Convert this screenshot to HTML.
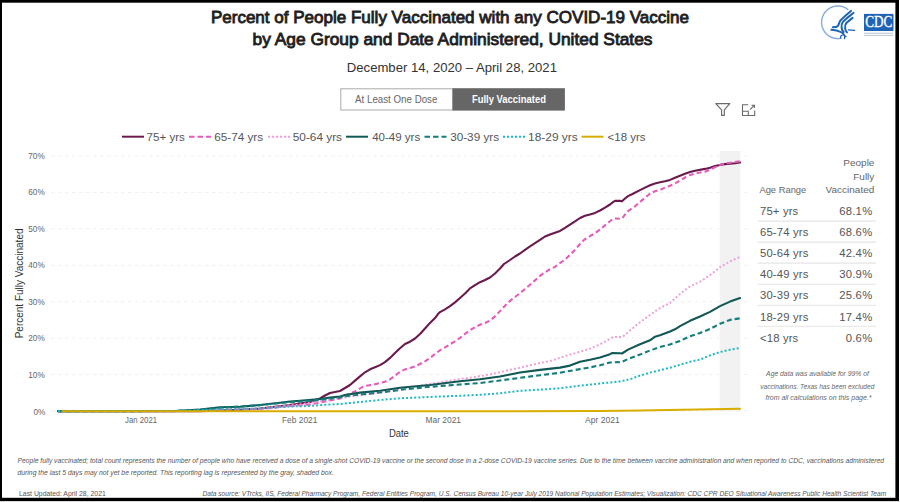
<!DOCTYPE html>
<html><head><meta charset="utf-8">
<style>
html,body{margin:0;padding:0;background:#fff;}
body{width:900px;height:502px;position:relative;overflow:hidden;font-family:"Liberation Sans",sans-serif;}
svg{position:absolute;left:0;top:0;font-family:"Liberation Sans",sans-serif;}
</style></head><body>
<svg width="900" height="502" viewBox="0 0 900 502">
<rect x="0" y="0" width="900" height="502" fill="#fff"/>
<rect x="0" y="0" width="899" height="2.7" fill="#000"/>
<rect x="0" y="0" width="2" height="501" fill="#000"/>
<rect x="895.4" y="0" width="3.6" height="501" fill="#000"/>
<rect x="0" y="497.8" width="899" height="3.2" fill="#000"/>
<rect x="0" y="501" width="900" height="1" fill="#d9d9d9"/>

<rect x="340.8" y="88.8" width="112" height="21.2" fill="#fff" stroke="#aaa" stroke-width="1"/>
<rect x="452.5" y="88.2" width="112.4" height="22.4" fill="#666"/>

<path d="M715.8,103.6 L729.8,103.6 L724.3,109.8 L724.3,115.4 L721.6,115.4 L721.6,109.8 Z" fill="none" stroke="#6a6a6a" stroke-width="1.15" stroke-linejoin="round"/>
<path d="M748.3,104.7 L742.5,104.7 L742.5,115.5 L754.7,115.5 L754.7,110.5" fill="none" stroke="#6a6a6a" stroke-width="1.1"/>
<path d="M742.5,111.3 L748.3,111.3 L748.3,115.5" fill="none" stroke="#6a6a6a" stroke-width="1.1"/>
<path d="M750,109.7 L754.4,105.2 M751.5,105.2 L754.4,105.2 L754.4,108" fill="none" stroke="#6a6a6a" stroke-width="1.1"/>

<line x1="122" y1="136.7" x2="144" y2="136.7" stroke="#6b1a4e" stroke-width="2"/>
<line x1="189" y1="136.7" x2="211" y2="136.7" stroke="#e55bbb" stroke-width="2" stroke-dasharray="5.5 3"/>
<line x1="268" y1="136.7" x2="290" y2="136.7" stroke="#efa1da" stroke-width="2" stroke-dasharray="2.2 1.8"/>
<line x1="346" y1="136.7" x2="368" y2="136.7" stroke="#115856" stroke-width="2"/>
<line x1="424.5" y1="136.7" x2="446.5" y2="136.7" stroke="#137d7c" stroke-width="2" stroke-dasharray="5.5 3"/>
<line x1="503" y1="136.7" x2="525" y2="136.7" stroke="#1fb9bf" stroke-width="2" stroke-dasharray="2.2 1.8"/>
<line x1="581.5" y1="136.7" x2="603.5" y2="136.7" stroke="#d9ad00" stroke-width="2"/>

<rect x="719.7" y="151" width="20.6" height="260.5" fill="#f2f2f2"/>
<line x1="51" y1="411.0" x2="748" y2="411.0" stroke="#f0f0f0" stroke-width="1" stroke-dasharray="3.6 3.4"/>
<line x1="51" y1="374.6" x2="748" y2="374.6" stroke="#f0f0f0" stroke-width="1" stroke-dasharray="3.6 3.4"/>
<line x1="51" y1="338.1" x2="748" y2="338.1" stroke="#f0f0f0" stroke-width="1" stroke-dasharray="3.6 3.4"/>
<line x1="51" y1="301.7" x2="748" y2="301.7" stroke="#f0f0f0" stroke-width="1" stroke-dasharray="3.6 3.4"/>
<line x1="51" y1="265.3" x2="748" y2="265.3" stroke="#f0f0f0" stroke-width="1" stroke-dasharray="3.6 3.4"/>
<line x1="51" y1="228.8" x2="748" y2="228.8" stroke="#f0f0f0" stroke-width="1" stroke-dasharray="3.6 3.4"/>
<line x1="51" y1="192.4" x2="748" y2="192.4" stroke="#f0f0f0" stroke-width="1" stroke-dasharray="3.6 3.4"/>
<line x1="51" y1="156.0" x2="748" y2="156.0" stroke="#f0f0f0" stroke-width="1" stroke-dasharray="3.6 3.4"/>
<path d="M58,411.3 L200,411.3 L240,409.8 L260,408.5 L290,405 L300,403.5 L310,402 L320,398.5 L325,395.5 L330,393 L340,391 L345,388 L350,385 L355,380.6 L360,376.4 L365,372.3 L370,369.3 L375,367.2 L380,365.1 L385,362.1 L390,357.9 L395,353.1 L400,348.2 L405,344 L410,341.7 L415,338.5 L420,334 L425,328.5 L430,322.9 L435,318.1 L438,314.1 L440,312.1 L445,309.3 L450,306.2 L455,302.4 L460,298 L465,293.5 L468,290.5 L470,288.4 L475,285.2 L480,282.2 L485,280 L490,277.5 L495,273.5 L500,268.5 L504,264 L510,260 L515,256.5 L520,253.5 L525,249.8 L530,246.4 L535,243.2 L540,239.9 L545,236.5 L550,234.5 L555,232.7 L560,230.9 L565,227.9 L570,224.6 L575,221.4 L580,218 L585,215.8 L590,214.4 L595,212.9 L600,210.5 L605,207.7 L610,204.5 L613,202.1 L615,200.9 L620,200.9 L622,201.3 L625,198.5 L628,196.1 L632,194.3 L640,190.1 L645,187.6 L650,185.2 L655,183.5 L660,182.3 L665,181.3 L670,179.9 L675,177.7 L680,175.7 L685,173.7 L690,172.1 L695,170.7 L705,168.9 L710,167.7 L715,166.1 L720,164.9 L725,164.1 L730,163.7 L735,163.2 L740,162.5" fill="none" stroke="#6b1a4e" stroke-width="2.1" stroke-linejoin="round" stroke-linecap="round"/>
<path d="M58,411.3 L170,411.3 L220,409.8 L260,409 L290,406 L310,404.5 L320,402.5 L330,400.5 L340,398.5 L345,395.5 L355,391.4 L360,388.4 L365,386 L375,384.2 L385,381.8 L390,379.4 L395,375.8 L400,371.8 L405,369.4 L410,368 L415,366.4 L420,364 L425,361.3 L430,358.1 L435,353.9 L440,350.3 L445,347.3 L450,344.3 L455,341.4 L460,337.9 L465,333.8 L470,330.2 L475,327.2 L480,324.8 L485,323 L490,320.6 L495,316.4 L500,311.1 L505,305.7 L510,300.9 L515,297 L520,293.2 L525,289 L530,284.8 L535,280.4 L540,275.8 L545,272.3 L550,269.2 L555,266.9 L560,263 L565,259.5 L570,254.9 L575,249.8 L580,244 L585,239.1 L590,236.2 L595,233.2 L600,229.6 L605,225.4 L610,221.2 L613,218.8 L615,218.5 L620,218.8 L622,218.5 L625,214.6 L628,211.1 L635,206.3 L640,202 L645,197.8 L650,193.6 L655,191.2 L660,190 L665,187.6 L670,185.8 L675,183.5 L680,180.5 L685,177.5 L690,175.1 L695,173.5 L705,171.7 L710,169.7 L715,167.3 L720,164.9 L725,163.5 L730,162.7 L740,161.3" fill="none" stroke="#e55bbb" stroke-width="2.1" stroke-linejoin="round" stroke-dasharray="5 3"/>
<path d="M58,411.3 L170,411.3 L220,409.5 L260,408.6 L300,404.5 L340,398 L380,392.5 L400,389 L430,384 L460,379 L470,377.8 L480,376 L490,374.5 L500,372.2 L510,369.8 L520,367.7 L530,365.2 L540,363 L550,361.1 L560,357.8 L570,354.6 L580,351.8 L590,348.6 L600,344.4 L610,338.8 L613,337 L620,337 L623,336.5 L630,330.5 L640,322.2 L645,318.6 L650,315 L655,311.4 L660,308.2 L665,305.5 L670,303.1 L675,298.3 L680,294.1 L685,290 L690,286.4 L695,284 L700,281.6 L710,275.2 L720,267.2 L730,261.5 L740,256.9" fill="none" stroke="#efa1da" stroke-width="2.0" stroke-linejoin="round" stroke-dasharray="2 2.1"/>
<path d="M58,411.3 L175,411 L200,409.6 L220,407.3 L240,406.8 L260,405 L280,402.8 L290,401.5 L300,400.8 L320,399 L330,397.5 L340,396.5 L345,395 L360,392.6 L380,390.8 L400,387.8 L430,385 L460,381.3 L480,379.3 L500,376.5 L510,374.5 L520,372.5 L540,369.9 L560,367.6 L570,365.6 L580,361.7 L590,359.7 L600,357.4 L610,354.2 L612,353.1 L620,353.2 L622,353.5 L628,349.6 L640,344.3 L650,340.3 L655,336.7 L660,335.3 L670,331.5 L675,329.3 L680,326.2 L690,320.8 L700,316.5 L710,311.9 L720,306.1 L730,301.6 L740,298.1" fill="none" stroke="#115856" stroke-width="2.1" stroke-linejoin="round" stroke-linecap="round"/>
<path d="M58,411.3 L175,411 L200,409.8 L220,407.7 L260,405.2 L280,403 L300,401.5 L320,400 L340,397.5 L350,395.5 L380,392.5 L405,389.3 L430,386.8 L460,384.5 L480,383 L500,380.5 L520,377.8 L540,375.3 L560,372.7 L580,369.1 L590,367.4 L600,365.3 L610,362.5 L620,362.1 L622,361.8 L628,359 L640,354.6 L650,350.5 L660,346.9 L670,344.5 L680,340.9 L690,336.3 L700,333 L710,329 L720,323.8 L730,319.9 L740,318.3" fill="none" stroke="#137d7c" stroke-width="2.1" stroke-linejoin="round" stroke-dasharray="5 3"/>
<path d="M58,411.3 L170,411.3 L220,409.5 L260,408.5 L290,406.5 L310,406 L320,405 L340,404 L350,403 L380,400 L400,398.3 L440,396.5 L460,395.8 L480,394.8 L500,393.3 L520,390.8 L540,389.6 L560,388.3 L580,385.7 L600,383.5 L620,381.4 L630,379.3 L640,375.6 L650,372.6 L660,370.2 L670,367.8 L680,364.8 L690,361.8 L700,359.6 L710,355.4 L720,352 L730,349.7 L740,348" fill="none" stroke="#1fb9bf" stroke-width="2.0" stroke-linejoin="round" stroke-dasharray="2 2.1"/>
<path d="M62.5,411.3 L520,411.3 L600,411 L640,410.5 L740,408.8" fill="none" stroke="#d9ad00" stroke-width="2.0" stroke-linejoin="round" stroke-linecap="round"/>

<text x="210.90" y="22.9" style="font-size:16.8px;fill:#1e1e1e;stroke:#1e1e1e;stroke-width:0.85px" textLength="478.15" lengthAdjust="spacingAndGlyphs">Percent of People Fully Vaccinated with any COVID-19 Vaccine</text>
<text x="252.60" y="45.1" style="font-size:16.8px;fill:#1e1e1e;stroke:#1e1e1e;stroke-width:0.85px" textLength="399.90" lengthAdjust="spacingAndGlyphs">by Age Group and Date Administered, United States</text>
<text x="346.80" y="72.2" style="font-size:13.0px;fill:#333" textLength="210.14" lengthAdjust="spacingAndGlyphs">December 14, 2020 – April 28, 2021</text>
<text x="355.10" y="103.0" style="font-size:10.2px;fill:#666" textLength="82.28" lengthAdjust="spacingAndGlyphs">At Least One Dose</text>
<text x="471.90" y="102.6" style="font-size:10.2px;fill:#fff;font-weight:bold" textLength="74.04" lengthAdjust="spacingAndGlyphs">Fully Vaccinated</text>
<text x="146.50" y="141.1" style="font-size:11.2px;fill:#555" textLength="38.40" lengthAdjust="spacingAndGlyphs">75+ yrs</text>
<text x="214.30" y="141.1" style="font-size:11.2px;fill:#555" textLength="48.84" lengthAdjust="spacingAndGlyphs">65-74 yrs</text>
<text x="292.80" y="141.1" style="font-size:11.2px;fill:#555" textLength="49.24" lengthAdjust="spacingAndGlyphs">50-64 yrs</text>
<text x="372.20" y="141.1" style="font-size:11.2px;fill:#555" textLength="48.04" lengthAdjust="spacingAndGlyphs">40-49 yrs</text>
<text x="450.20" y="141.1" style="font-size:11.2px;fill:#555" textLength="48.84" lengthAdjust="spacingAndGlyphs">30-39 yrs</text>
<text x="528.10" y="141.1" style="font-size:11.2px;fill:#555" textLength="49.64" lengthAdjust="spacingAndGlyphs">18-29 yrs</text>
<text x="607.60" y="141.1" style="font-size:11.2px;fill:#555" textLength="38.00" lengthAdjust="spacingAndGlyphs">&lt;18 yrs</text>
<text x="125.00" y="422.8" style="font-size:8.7px;fill:#666" textLength="32.11" lengthAdjust="spacingAndGlyphs">Jan 2021</text>
<text x="282.00" y="422.8" style="font-size:8.7px;fill:#666" textLength="35.40" lengthAdjust="spacingAndGlyphs">Feb 2021</text>
<text x="425.60" y="422.8" style="font-size:8.7px;fill:#666" textLength="35.40" lengthAdjust="spacingAndGlyphs">Mar 2021</text>
<text x="585.00" y="422.8" style="font-size:8.7px;fill:#666" textLength="34.86" lengthAdjust="spacingAndGlyphs">Apr 2021</text>
<text x="388.90" y="437.0" style="font-size:10.0px;fill:#333" textLength="19.93" lengthAdjust="spacingAndGlyphs">Date</text>
<text x="843.30" y="166.4" style="font-size:9.1px;fill:#666" textLength="31.13" lengthAdjust="spacingAndGlyphs">People</text>
<text x="853.30" y="179.6" style="font-size:9.1px;fill:#666" textLength="21.00" lengthAdjust="spacingAndGlyphs">Fully</text>
<text x="825.60" y="192.8" style="font-size:9.1px;fill:#666" textLength="48.73" lengthAdjust="spacingAndGlyphs">Vaccinated</text>
<text x="759.40" y="193.2" style="font-size:9.1px;fill:#666" textLength="46.92" lengthAdjust="spacingAndGlyphs">Age Range</text>
<text x="766.10" y="376.4" style="font-size:6.8px;fill:#666;font-style:italic" textLength="102.78" lengthAdjust="spacingAndGlyphs">Age data was available for 99% of</text>
<text x="760.30" y="388.8" style="font-size:6.8px;fill:#666;font-style:italic" textLength="114.03" lengthAdjust="spacingAndGlyphs">vaccinations. Texas has been excluded</text>
<text x="765.50" y="400.2" style="font-size:6.8px;fill:#666;font-style:italic" textLength="105.96" lengthAdjust="spacingAndGlyphs">from all calculations on this page.*</text>
<text x="17.50" y="462.8" style="font-size:6.8px;fill:#555;font-style:italic" textLength="866.53" lengthAdjust="spacingAndGlyphs">People fully vaccinated; total count represents the number of people who have received a dose of a single-shot COVID-19 vaccine or the second dose in a 2-dose COVID-19 vaccine series. Due to the time between vaccine administration and when reported to CDC, vaccinations administered</text>
<text x="17.50" y="474.8" style="font-size:6.8px;fill:#555;font-style:italic" textLength="316.36" lengthAdjust="spacingAndGlyphs">during the last 5 days may not yet be reported. This reporting lag is represented by the gray, shaded box.</text>
<text x="19.00" y="495.5" style="font-size:6.8px;fill:#555" textLength="86.78" lengthAdjust="spacingAndGlyphs">Last Updated: April 28, 2021</text>
<text x="202.50" y="495.7" style="font-size:6.8px;fill:#555;font-style:italic" textLength="683.67" lengthAdjust="spacingAndGlyphs">Data source: VTrcks, IIS, Federal Pharmacy Program, Federal Entities Program, U.S. Census Bureau 10-year July 2019 National Population Estimates; Visualization: CDC CPR DEO Situational Awareness Public Health Scientist Team</text>
<text x="33.6" y="415.2" textLength="11.76" lengthAdjust="spacingAndGlyphs" style="font-size:8.7px;fill:#666">0%</text>
<text x="28.3" y="377.6" textLength="16.4" lengthAdjust="spacingAndGlyphs" style="font-size:8.7px;fill:#666">10%</text>
<text x="28.3" y="341.1" textLength="16.4" lengthAdjust="spacingAndGlyphs" style="font-size:8.7px;fill:#666">20%</text>
<text x="28.3" y="304.7" textLength="16.4" lengthAdjust="spacingAndGlyphs" style="font-size:8.7px;fill:#666">30%</text>
<text x="28.3" y="268.3" textLength="16.4" lengthAdjust="spacingAndGlyphs" style="font-size:8.7px;fill:#666">40%</text>
<text x="28.3" y="231.8" textLength="16.4" lengthAdjust="spacingAndGlyphs" style="font-size:8.7px;fill:#666">50%</text>
<text x="28.3" y="195.4" textLength="16.4" lengthAdjust="spacingAndGlyphs" style="font-size:8.7px;fill:#666">60%</text>
<text x="28.3" y="159.0" textLength="16.4" lengthAdjust="spacingAndGlyphs" style="font-size:8.7px;fill:#666">70%</text>
<text transform="translate(22.9,338.3) rotate(-90)" x="0" y="0" textLength="109.8" lengthAdjust="spacingAndGlyphs" style="font-size:10px;fill:#333">Percent Fully Vaccinated</text>
<text x="760.00" y="215.1" style="font-size:11.3px;fill:#555;letter-spacing:0.15px">75+ yrs</text>
<text x="872.45" y="215.1" text-anchor="end" style="font-size:11.3px;fill:#555;letter-spacing:0.25px">68.1%</text>
<line x1="757.5" y1="221.1" x2="876" y2="221.1" stroke="#e5e5e5" stroke-width="1.1"/>
<text x="760.00" y="236.2" style="font-size:11.3px;fill:#555;letter-spacing:0.15px">65-74 yrs</text>
<text x="872.45" y="236.2" text-anchor="end" style="font-size:11.3px;fill:#555;letter-spacing:0.25px">68.6%</text>
<line x1="757.5" y1="242.1" x2="876" y2="242.1" stroke="#e5e5e5" stroke-width="1.1"/>
<text x="760.00" y="257.3" style="font-size:11.3px;fill:#555;letter-spacing:0.15px">50-64 yrs</text>
<text x="872.45" y="257.3" text-anchor="end" style="font-size:11.3px;fill:#555;letter-spacing:0.25px">42.4%</text>
<line x1="757.5" y1="263.1" x2="876" y2="263.1" stroke="#e5e5e5" stroke-width="1.1"/>
<text x="760.00" y="278.3" style="font-size:11.3px;fill:#555;letter-spacing:0.15px">40-49 yrs</text>
<text x="872.45" y="278.3" text-anchor="end" style="font-size:11.3px;fill:#555;letter-spacing:0.25px">30.9%</text>
<line x1="757.5" y1="284.2" x2="876" y2="284.2" stroke="#e5e5e5" stroke-width="1.1"/>
<text x="760.00" y="299.4" style="font-size:11.3px;fill:#555;letter-spacing:0.15px">30-39 yrs</text>
<text x="872.45" y="299.4" text-anchor="end" style="font-size:11.3px;fill:#555;letter-spacing:0.25px">25.6%</text>
<line x1="757.5" y1="305.2" x2="876" y2="305.2" stroke="#e5e5e5" stroke-width="1.1"/>
<text x="760.00" y="320.5" style="font-size:11.3px;fill:#555;letter-spacing:0.15px">18-29 yrs</text>
<text x="872.45" y="320.5" text-anchor="end" style="font-size:11.3px;fill:#555;letter-spacing:0.25px">17.4%</text>
<line x1="757.5" y1="326.2" x2="876" y2="326.2" stroke="#e5e5e5" stroke-width="1.1"/>
<text x="760.00" y="341.6" style="font-size:11.3px;fill:#555;letter-spacing:0.15px">&lt;18 yrs</text>
<text x="872.45" y="341.6" text-anchor="end" style="font-size:11.3px;fill:#555;letter-spacing:0.25px">0.6%</text>

<g id="hhs" fill="none" stroke-linecap="round" stroke-linejoin="round">
<path d="M847.94,9.46 A16.3,16.3 0 1 0 839.60,38.51" stroke="#4f86c9" stroke-width="1.4" stroke-dasharray="0.6 0.5" opacity="0.7"/>
<path d="M851,10.9 C846,15 842,18.5 840.2,20.9 C838.9,22.8 838.9,24.8 837.6,26.3 C836.8,27.1 835,27.2 832.9,27.2" stroke="#1f64b2" stroke-width="2"/>
<path d="M853.6,12.8 C849,16.5 845,19.5 842.9,21.8 C841.5,23.5 841.3,25.5 841.6,28 C841.9,29.8 842.6,31 843.6,32" stroke="#1f64b2" stroke-width="2"/>
<path d="M852.6,17.9 C850,20 847.5,21.8 846.1,23.3 C845,24.6 844.9,26.3 845.2,28.8 C845.5,30.5 846.2,31.6 847,32.4" stroke="#1f64b2" stroke-width="2"/>
<path d="M831.3,29.7 C834.5,29.8 838.5,30.7 841.3,32.3 C843.3,33.4 844.3,35 844.9,36.3" stroke="#1f64b2" stroke-width="1.9"/>
<path d="M848.3,29.9 L854.6,30.4" stroke="#1f64b2" stroke-width="1.4"/>
<path d="M840.8,38.3 C840.2,36.8 841,35.5 842.3,35.2 M844.6,38.7 C844.2,37.6 844.8,36.6 846,36.4" stroke="#1f64b2" stroke-width="1.3"/>
</g>
<rect x="864" y="13.9" width="29.5" height="17.1" fill="#1f63b4"/>
<text x="865.3" y="26.6" textLength="27" lengthAdjust="spacingAndGlyphs" style="font-family:'Liberation Serif',serif;font-size:15.9px;fill:#fff;stroke:#fff;stroke-width:0.35px">CDC</text>
<rect x="864" y="32.7" width="29.5" height="1.1" fill="#bdc9da"/>
<rect x="864" y="34.9" width="29.5" height="1.0" fill="#bdc9da"/>
</svg>
</body></html>
